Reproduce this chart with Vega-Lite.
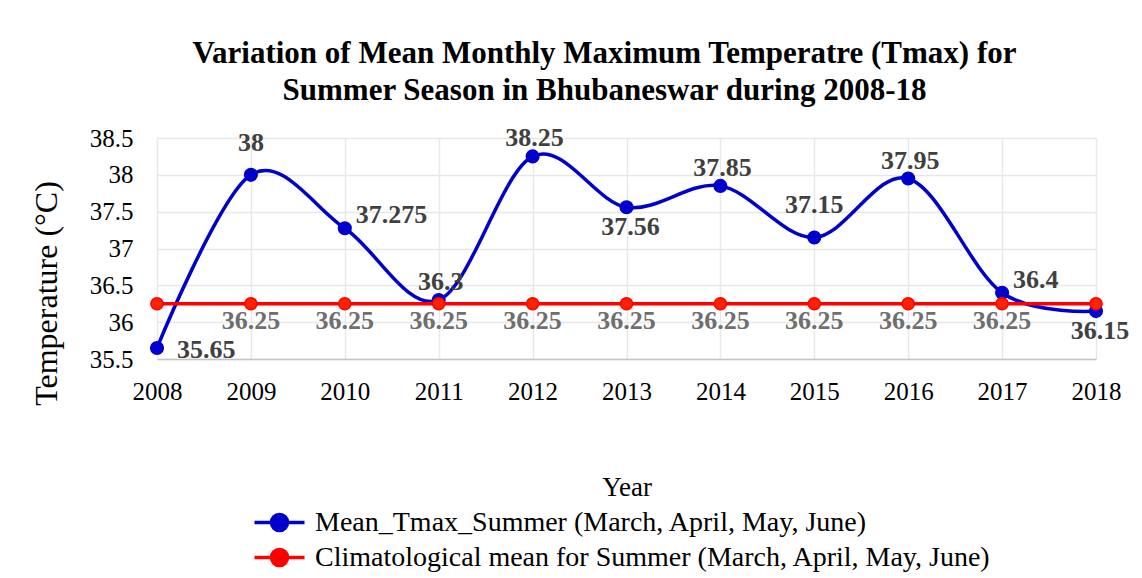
{
  "$schema": "https://vega.github.io/schema/vega-lite/v6.json",
  "width": 939,
  "height": 221,
  "autosize": {"type": "none"},
  "padding": {"left": 157, "top": 138, "right": 46, "bottom": 219},
  "background": "white",
  "title": {
    "text": ["Variation of Mean Monthly Maximum Temperatre (Tmax) for", "Summer Season in Bhubaneswar during 2008-18"],
    "font": "Liberation Serif",
    "fontSize": 31,
    "fontWeight": "bold",
    "color": "black",
    "lineHeight": 37,
    "anchor": "middle",
    "dx": -22,
    "offset": 18
  },
  "data": {
    "values": [
      {"Year": 2008, "Series": "Mean_Tmax_Summer (March, April, May, June)", "Temp": 35.65},
      {"Year": 2009, "Series": "Mean_Tmax_Summer (March, April, May, June)", "Temp": 38},
      {"Year": 2010, "Series": "Mean_Tmax_Summer (March, April, May, June)", "Temp": 37.275},
      {"Year": 2011, "Series": "Mean_Tmax_Summer (March, April, May, June)", "Temp": 36.3},
      {"Year": 2012, "Series": "Mean_Tmax_Summer (March, April, May, June)", "Temp": 38.25},
      {"Year": 2013, "Series": "Mean_Tmax_Summer (March, April, May, June)", "Temp": 37.56},
      {"Year": 2014, "Series": "Mean_Tmax_Summer (March, April, May, June)", "Temp": 37.85},
      {"Year": 2015, "Series": "Mean_Tmax_Summer (March, April, May, June)", "Temp": 37.15},
      {"Year": 2016, "Series": "Mean_Tmax_Summer (March, April, May, June)", "Temp": 37.95},
      {"Year": 2017, "Series": "Mean_Tmax_Summer (March, April, May, June)", "Temp": 36.4},
      {"Year": 2018, "Series": "Mean_Tmax_Summer (March, April, May, June)", "Temp": 36.15},
      {"Year": 2008, "Series": "Climatological mean for Summer (March, April, May, June)", "Temp": 36.25},
      {"Year": 2009, "Series": "Climatological mean for Summer (March, April, May, June)", "Temp": 36.25},
      {"Year": 2010, "Series": "Climatological mean for Summer (March, April, May, June)", "Temp": 36.25},
      {"Year": 2011, "Series": "Climatological mean for Summer (March, April, May, June)", "Temp": 36.25},
      {"Year": 2012, "Series": "Climatological mean for Summer (March, April, May, June)", "Temp": 36.25},
      {"Year": 2013, "Series": "Climatological mean for Summer (March, April, May, June)", "Temp": 36.25},
      {"Year": 2014, "Series": "Climatological mean for Summer (March, April, May, June)", "Temp": 36.25},
      {"Year": 2015, "Series": "Climatological mean for Summer (March, April, May, June)", "Temp": 36.25},
      {"Year": 2016, "Series": "Climatological mean for Summer (March, April, May, June)", "Temp": 36.25},
      {"Year": 2017, "Series": "Climatological mean for Summer (March, April, May, June)", "Temp": 36.25},
      {"Year": 2018, "Series": "Climatological mean for Summer (March, April, May, June)", "Temp": 36.25}
    ]
  },
  "encoding": {
    "x": {
      "field": "Year",
      "type": "quantitative",
      "scale": {"domain": [2008, 2018], "nice": false, "zero": false},
      "axis": {
        "values": [2008, 2009, 2010, 2011, 2012, 2013, 2014, 2015, 2016, 2017, 2018],
        "format": "d",
        "title": "Year",
        "titleFont": "Liberation Serif",
        "titleFontSize": 27,
        "titleFontWeight": "normal",
        "titleColor": "black",
        "titlePadding": 70,
        "labelFont": "Liberation Serif",
        "labelFontSize": 25,
        "labelColor": "black",
        "labelPadding": 20,
        "labelFlush": false,
        "labelOverlap": false,
        "labelBound": false,
        "ticks": false,
        "domain": true,
        "domainColor": "#c4c4c4",
        "domainWidth": 1.5,
        "grid": true,
        "gridColor": "#e8e8e8",
        "gridWidth": 1.5
      }
    },
    "y": {
      "field": "Temp",
      "type": "quantitative",
      "scale": {"domain": [35.5, 38.5], "nice": false, "zero": false},
      "axis": {
        "values": [35.5, 36, 36.5, 37, 37.5, 38, 38.5],
        "format": "~f",
        "title": "Temperature (°C)",
        "titleFont": "Liberation Serif",
        "titleFontSize": 32,
        "titleFontWeight": "normal",
        "titleColor": "black",
        "titlePadding": 26,
        "titleY": 155,
        "labelFont": "Liberation Serif",
        "labelFontSize": 25,
        "labelColor": "black",
        "labelPadding": 24,
        "labelFlush": false,
        "ticks": false,
        "domain": false,
        "grid": true,
        "gridColor": "#e8e8e8",
        "gridWidth": 1.5
      }
    },
    "color": {
      "field": "Series",
      "type": "nominal",
      "scale": {
        "domain": ["Mean_Tmax_Summer (March, April, May, June)", "Climatological mean for Summer (March, April, May, June)"],
        "range": ["#0000cc", "#ff0000"]
      },
      "legend": {
        "orient": "none",
        "legendX": 108,
        "legendY": 370,
        "title": null,
        "direction": "vertical",
        "symbolType": "M-2,0L2,0M-0.64,0A0.64,0.64,0,1,1,0.64,0A0.64,0.64,0,1,1,-0.64,0Z",
        "symbolSize": 625,
        "symbolStrokeWidth": 3.5,
        "labelFont": "Liberation Serif",
        "labelFontSize": 28,
        "labelColor": "black",
        "labelLimit": 0,
        "labelOffset": 21,
        "rowPadding": 4,
        "encode": {
          "symbols": {
            "update": {
              "fill": {"scale": "color", "field": "value"},
              "stroke": {"scale": "color", "field": "value"},
              "opacity": {"value": 1}
            }
          }
        }
      }
    }
  },
  "layer": [
    {
      "transform": [{"filter": {"field": "Series", "equal": "Mean_Tmax_Summer (March, April, May, June)"}}],
      "mark": {"type": "line", "interpolate": "cardinal", "strokeWidth": 3.5}
    },
    {
      "transform": [{"filter": {"field": "Series", "equal": "Mean_Tmax_Summer (March, April, May, June)"}}],
      "mark": {"type": "point", "filled": true, "size": 200, "opacity": 1}
    },
    {
      "transform": [{"filter": {"field": "Series", "equal": "Climatological mean for Summer (March, April, May, June)"}}],
      "mark": {"type": "line", "strokeWidth": 3.5}
    },
    {
      "transform": [{"filter": {"field": "Series", "equal": "Climatological mean for Summer (March, April, May, June)"}}],
      "mark": {"type": "point", "filled": true, "size": 150, "opacity": 1, "fill": "#ff2200", "stroke": "#ff0000", "strokeWidth": 1.5}
    },
    {
      "transform": [{"filter": {"and": [{"field": "Series", "equal": "Climatological mean for Summer (March, April, May, June)"}, {"field": "Year", "range": [2009, 2017]}]}}],
      "mark": {"type": "text", "font": "Liberation Serif", "fontSize": 26, "fontWeight": "bold", "baseline": "middle", "align": "center", "dy": 17},
      "encoding": {"text": {"field": "Temp", "type": "nominal"}, "color": {"value": "#6f6f6f"}}
    },
    {
      "transform": [{"filter": {"and": [{"field": "Series", "equal": "Mean_Tmax_Summer (March, April, May, June)"}, {"field": "Year", "oneOf": [2009, 2015]}]}}],
      "mark": {"type": "text", "font": "Liberation Serif", "fontSize": 26, "fontWeight": "bold", "baseline": "middle", "align": "center", "dy": -32},
      "encoding": {"text": {"field": "Temp", "type": "nominal"}, "color": {"value": "#404040"}}
    },
    {
      "transform": [{"filter": {"and": [{"field": "Series", "equal": "Mean_Tmax_Summer (March, April, May, June)"}, {"field": "Year", "oneOf": [2011, 2012, 2014, 2016]}]}}],
      "mark": {"type": "text", "font": "Liberation Serif", "fontSize": 26, "fontWeight": "bold", "baseline": "middle", "align": "center", "dx": 2, "dy": -18},
      "encoding": {"text": {"field": "Temp", "type": "nominal"}, "color": {"value": "#404040"}}
    },
    {
      "transform": [{"filter": {"and": [{"field": "Series", "equal": "Mean_Tmax_Summer (March, April, May, June)"}, {"field": "Year", "oneOf": [2010, 2017]}]}}],
      "mark": {"type": "text", "font": "Liberation Serif", "fontSize": 26, "fontWeight": "bold", "baseline": "middle", "align": "left", "dx": 11, "dy": -13},
      "encoding": {"text": {"field": "Temp", "type": "nominal"}, "color": {"value": "#404040"}}
    },
    {
      "transform": [{"filter": {"and": [{"field": "Series", "equal": "Mean_Tmax_Summer (March, April, May, June)"}, {"field": "Year", "equal": 2008}]}}],
      "mark": {"type": "text", "font": "Liberation Serif", "fontSize": 26, "fontWeight": "bold", "baseline": "middle", "align": "left", "dx": 20, "dy": 2},
      "encoding": {"text": {"field": "Temp", "type": "nominal"}, "color": {"value": "#404040"}}
    },
    {
      "transform": [{"filter": {"and": [{"field": "Series", "equal": "Mean_Tmax_Summer (March, April, May, June)"}, {"field": "Year", "oneOf": [2013, 2018]}]}}],
      "mark": {"type": "text", "font": "Liberation Serif", "fontSize": 26, "fontWeight": "bold", "baseline": "middle", "align": "center", "dx": 4, "dy": 20},
      "encoding": {"text": {"field": "Temp", "type": "nominal"}, "color": {"value": "#404040"}}
    }
  ]
}
